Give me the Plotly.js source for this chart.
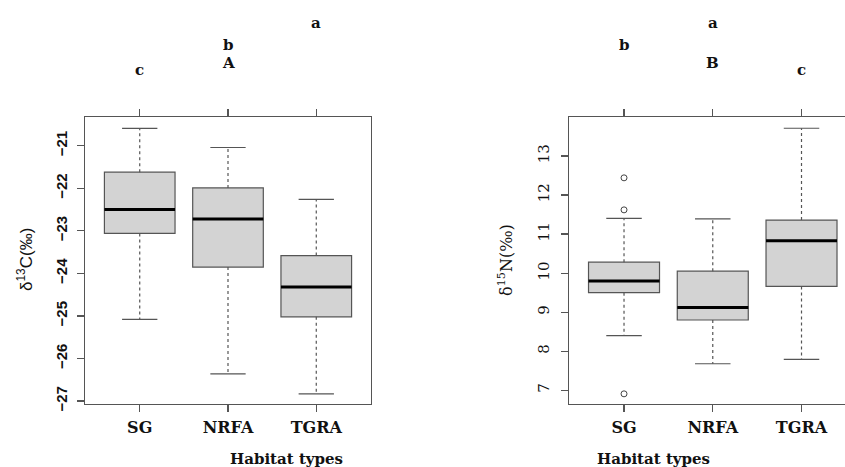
<!DOCTYPE html>
<html>
<head>
<meta charset="utf-8">
<script src="https://cdn.plot.ly/plotly-3.0.1.min.js"></script>
<style>html,body{margin:0;padding:0;background:#fff;}#chart{width:845px;height:467px;}</style>
</head>
<body>
<div id="chart"></div>
<script>
// ---- data ----
const categories = ['SG', 'NRFA', 'TGRA'];
// delta 13C
const c13Low = [-25.08, -26.36, -26.83];
const c13Q1 = [-23.06, -23.85, -25.02];
const c13Median = [-22.50, -22.72, -24.32];
const c13Q3 = [-21.62, -21.99, -23.58];
const c13High = [-20.59, -21.04, -22.26];
const c13Letters = ['c', 'b', 'a'];
const c13CapLetters = ['', 'A', ''];
// delta 15N
const n15Low = [8.40, 7.68, 7.79];
const n15Q1 = [9.50, 8.80, 9.66];
const n15Median = [9.80, 9.12, 10.83];
const n15Q3 = [10.28, 10.05, 11.36];
const n15High = [11.40, 11.39, 13.71];
const n15OutlierCat = ['SG', 'SG', 'SG'];
const n15OutlierVal = [12.44, 11.62, 6.91];
const n15Letters = ['b', 'a', 'c'];
const n15CapLetters = ['', 'B', ''];
const c13Ticks = [-27, -26, -25, -24, -23, -22, -21];
const n15Ticks = [7, 8, 9, 10, 11, 12, 13];

// ---- styling ----
const SERIF = 'DejaVu Serif';
const SANS = 'Liberation Sans';
const BOXW = 0.8, CAPW = 0.4;
const EDGE = '#555555', FILL = '#d3d3d3';
const pos = categories.map((c, i) => i + 1);

function panel(low, q1, med, q3, high, xa, ya) {
  const tr = [];
  tr.push({
    type: 'box', x: pos, q1: q1, median: med, q3: q3,
    lowerfence: q1, upperfence: q3, width: BOXW,
    fillcolor: FILL, line: {color: EDGE, width: 1.2}, whiskerwidth: 0,
    xaxis: xa, yaxis: ya, hoverinfo: 'skip', boxpoints: false
  });
  const wx = [], wy = [];
  pos.forEach((p, i) => {
    wx.push(p, p, null, p, p, null);
    wy.push(q3[i], high[i], null, q1[i], low[i], null);
  });
  tr.push({type: 'scatter', mode: 'lines', x: wx, y: wy, xaxis: xa, yaxis: ya,
    line: {color: EDGE, width: 1.2, dash: '3px,3px'}, hoverinfo: 'skip'});
  const cx = [], cy = [];
  pos.forEach((p, i) => {
    cx.push(p - CAPW / 2, p + CAPW / 2, null, p - CAPW / 2, p + CAPW / 2, null);
    cy.push(high[i], high[i], null, low[i], low[i], null);
  });
  tr.push({type: 'scatter', mode: 'lines', x: cx, y: cy, xaxis: xa, yaxis: ya,
    line: {color: EDGE, width: 1.2}, hoverinfo: 'skip'});
  const mx = [], my = [];
  pos.forEach((p, i) => {
    mx.push(p - BOXW / 2, p + BOXW / 2, null);
    my.push(med[i], med[i], null);
  });
  tr.push({type: 'scatter', mode: 'lines', x: mx, y: my, xaxis: xa, yaxis: ya,
    line: {color: '#000', width: 3}, hoverinfo: 'skip'});
  return tr;
}

const traces = [].concat(
  panel(c13Low, c13Q1, c13Median, c13Q3, c13High, 'x', 'y'),
  panel(n15Low, n15Q1, n15Median, n15Q3, n15High, 'x2', 'y2')
);
traces.push({
  type: 'scatter', mode: 'markers',
  x: n15OutlierCat.map(c => categories.indexOf(c) + 1), y: n15OutlierVal,
  xaxis: 'x2', yaxis: 'y2',
  marker: {symbol: 'circle-open', size: 6, color: '#444', line: {width: 1}},
  hoverinfo: 'skip'
});

const H = 467, W = 845;
const yDom = [1 - 404 / H, 1 - 117.3 / H];
const tickBold = {family: SERIF, size: 16, color: '#111', weight: 'bold', stretch: 'condensed'};

function xAxis(dom, range) {
  return {
    domain: dom, range: range, tickmode: 'array', tickvals: pos, ticktext: categories,
    showline: true, mirror: 'ticks', linecolor: EDGE, linewidth: 1.2,
    ticks: 'outside', ticklen: 7, tickcolor: EDGE, tickwidth: 1.2, ticklabelstandoff: 2,
    showgrid: false, zeroline: false, tickfont: tickBold, fixedrange: true
  };
}

const annotations = [];
const letterFont = {family: SERIF, size: 15, color: '#111', weight: 'bold', stretch: 'condensed'};
const c13LetterY = [70, 45, 22.5];
const n15LetterY = [45, 22.5, 70];
c13Letters.forEach((t, i) => annotations.push({xref: 'x', yref: 'paper', x: pos[i], y: 1 - c13LetterY[i] / H,
  text: t, showarrow: false, yanchor: 'middle', font: letterFont}));
n15Letters.forEach((t, i) => annotations.push({xref: 'x2', yref: 'paper', x: pos[i], y: 1 - n15LetterY[i] / H,
  text: t, showarrow: false, yanchor: 'middle', font: letterFont}));
c13CapLetters.forEach((t, i) => { if (t) annotations.push({xref: 'x', yref: 'paper', x: pos[i], y: 1 - 63 / H,
  text: t, showarrow: false, yanchor: 'middle', font: letterFont}); });
n15CapLetters.forEach((t, i) => { if (t) annotations.push({xref: 'x2', yref: 'paper', x: pos[i], y: 1 - 63 / H,
  text: t, showarrow: false, yanchor: 'middle', font: letterFont}); });

const titleFont = {family: SERIF, size: 15, color: '#111', weight: 'bold', stretch: 'condensed'};
annotations.push({xref: 'paper', yref: 'paper', x: 228 / W, y: 1 - 448 / H, yanchor: 'top',
  text: 'Habitat types', showarrow: false, font: titleFont});
annotations.push({xref: 'paper', yref: 'paper', x: 712 / W, y: 1 - 448 / H, yanchor: 'top',
  text: 'Habitat types', showarrow: false, font: titleFont});
annotations.push({xref: 'paper', yref: 'paper', x: 25 / W, y: 1 - 260 / H, xanchor: 'center', yanchor: 'middle', textangle: -90,
  text: 'δ<sup>13</sup>C(‰)', showarrow: false, font: {family: SANS, size: 17, color: '#111'}});
annotations.push({xref: 'paper', yref: 'paper', x: 505 / W, y: 1 - 260 / H, xanchor: 'center', yanchor: 'middle', textangle: -90,
  text: 'δ<sup>15</sup>N(‰)', showarrow: false, font: {family: SERIF, size: 16, color: '#111', stretch: 'condensed'}});

const layout = {
  width: W, height: H, margin: {l: 0, r: 0, t: 0, b: 0},
  paper_bgcolor: '#fff', plot_bgcolor: '#fff', showlegend: false, hovermode: false,
  xaxis: xAxis([85 / W, 371 / W], [0.38, 3.62]),
  xaxis2: Object.assign(xAxis([569 / W, 1], [0.38, 3.49]), {anchor: 'y2'}),
  yaxis: {
    domain: yDom, range: [-27.07, -20.33], tickmode: 'array', tickvals: c13Ticks,
    tickangle: -90, showline: true, mirror: true, linecolor: EDGE, linewidth: 1.2,
    ticks: 'outside', ticklen: 7, tickcolor: EDGE, tickwidth: 1.2, ticklabelstandoff: 4,
    showgrid: false, zeroline: false, fixedrange: true,
    tickfont: {family: SANS, size: 15, color: '#111', weight: 'bold'}
  },
  yaxis2: {
    domain: yDom, anchor: 'x2', range: [6.65, 13.99], tickmode: 'array', tickvals: n15Ticks,
    tickangle: -90, showline: true, mirror: false, linecolor: EDGE, linewidth: 1.2,
    ticks: 'outside', ticklen: 7, tickcolor: EDGE, tickwidth: 1.2, ticklabelstandoff: 6,
    showgrid: false, zeroline: false, fixedrange: true,
    tickfont: {family: SERIF, size: 15, color: '#111', stretch: 'condensed'}
  },
  annotations: annotations
};

Plotly.newPlot('chart', traces, layout, {staticPlot: true, displayModeBar: false});
</script>
</body>
</html>
